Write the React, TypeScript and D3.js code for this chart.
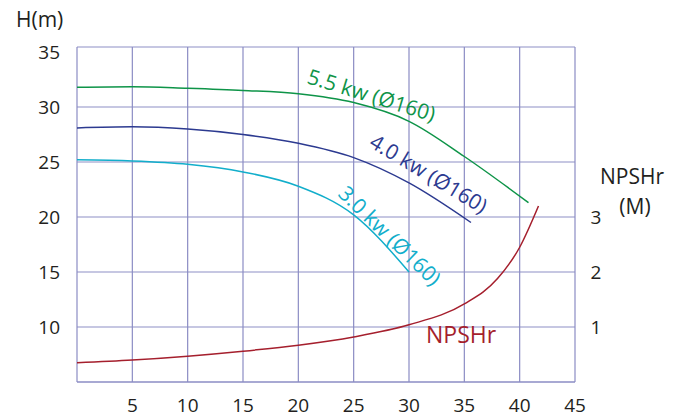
import React from "react";
import * as d3 from "d3";

const flowX = [0, 5, 10, 15, 20, 25, 30, 35, 40, 45];
const headTicks = [10, 15, 20, 25, 30, 35];
const npshTicks = [1, 2, 3];

const q55 = [0, 5, 10, 15, 20, 25, 30, 35, 40.8];
const h55 = [31.8, 31.85, 31.7, 31.5, 31.2, 30.4, 28.7, 25.5, 21.3];

const q40 = [0, 5, 10, 15, 20, 25, 30, 35.6];
const h40 = [28.1, 28.2, 28.0, 27.5, 26.7, 25.4, 23.1, 19.5];

const q30 = [0, 5, 10, 15, 20, 25, 30];
const h30 = [25.2, 25.1, 24.8, 24.1, 22.8, 20.2, 15.0];

const qN = [0, 5, 10, 15, 20, 25, 30, 35, 38, 40, 41.7];
const nN = [0.35, 0.4, 0.47, 0.56, 0.67, 0.82, 1.04, 1.42, 1.88, 2.45, 3.2];

const W = 684, H = 418;
const left = 77, right = 575, top = 47, bottom = 382;

export default function App() {
  const x = d3.scaleLinear().domain([0, 45]).range([left, right]);
  const y = d3.scaleLinear().domain([5, 35]).range([bottom, 52]);
  const yN = d3.scaleLinear().domain([0, 3]).range([y(5), y(20)]);

  const line = d3
    .line<[number, number]>()
    .x((d) => x(d[0]))
    .y((d) => y(d[1]))
    .curve(d3.curveMonotoneX);
  const lineN = d3
    .line<[number, number]>()
    .x((d) => x(d[0]))
    .y((d) => yN(d[1]))
    .curve(d3.curveMonotoneX);

  const zip = (a: number[], b: number[]) => a.map((v, i) => [v, b[i]] as [number, number]);

  const font = "'Open Sans', 'Noto Sans', sans-serif";
  const txt = "#231f20";
  const hGrid = "#c6c7e2";
  const vGrid = "#8b8cc4";

  return (
    <svg
      width={W}
      height={H}
      style={{ position: "absolute", left: 0, top: 0, display: "block", background: "#fff" }}
      fontFamily={font}
    >
      {/* horizontal grid */}
      {headTicks.slice(0, -1).map((t) => (
        <line key={"h" + t} x1={left} x2={right} y1={y(t)} y2={y(t)} stroke={hGrid} strokeWidth={2} />
      ))}
      <line x1={left} x2={right} y1={top} y2={top} stroke={hGrid} strokeWidth={2} />
      {/* vertical grid */}
      {flowX.map((t) => (
        <line key={"v" + t} x1={x(t)} x2={x(t)} y1={top} y2={bottom} stroke={vGrid} strokeWidth={1.2} />
      ))}
      <line x1={left} x2={right} y1={bottom} y2={bottom} stroke={vGrid} strokeWidth={1.4} />

      {/* curves */}
      <path d={line(zip(q55, h55)) || ""} fill="none" stroke="#0e9448" strokeWidth={1.5} />
      <path d={line(zip(q40, h40)) || ""} fill="none" stroke="#2c3a90" strokeWidth={1.5} />
      <path d={line(zip(q30, h30)) || ""} fill="none" stroke="#12aecb" strokeWidth={1.5} />
      <path d={lineN(zip(qN, nN)) || ""} fill="none" stroke="#a51f2d" strokeWidth={1.5} />

      {/* curve labels */}
      <text transform="translate(306,83) rotate(17)" fontSize={21} fill="#0e9448">5.5 kw (Ø160)</text>
      <text transform="translate(368,146) rotate(31)" fontSize={21} fill="#2c3a90">4.0 kw (Ø160)</text>
      <text transform="translate(337,195) rotate(44)" fontSize={21} fill="#12aecb">3.0 kw (Ø160)</text>
      <text x={426} y={343} fontSize={23} fill="#a51f2d">NPSHr</text>

      {/* left axis labels */}
      {headTicks.map((t) => (
        <text key={"l" + t} x={60} y={y(t)} dy="0.35em" textAnchor="end" fontSize={19} fill={txt}>
          {t}
        </text>
      ))}
      <text x={16} y={27} fontSize={21} fill={txt}>H(m)</text>

      {/* bottom axis labels */}
      {flowX.slice(1).map((t) => (
        <text key={"b" + t} x={x(t)} y={412} textAnchor="middle" fontSize={19} fill={txt}>
          {t}
        </text>
      ))}

      {/* right axis labels */}
      {npshTicks.map((t) => (
        <text key={"r" + t} x={596} y={yN(t)} dy="0.35em" textAnchor="middle" fontSize={19} fill={txt}>
          {t}
        </text>
      ))}
      <text x={632} y={184} textAnchor="middle" fontSize={21} fill={txt}>NPSHr</text>
      <text x={635} y={214} textAnchor="middle" fontSize={21} fill={txt}>(M)</text>
    </svg>
  );
}
